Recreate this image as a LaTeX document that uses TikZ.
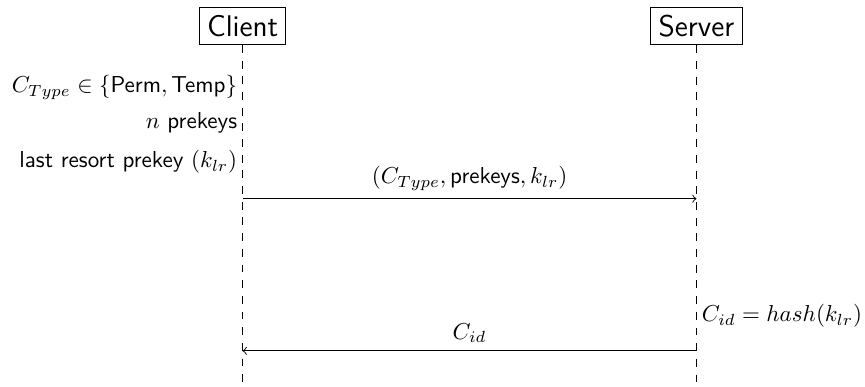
\documentclass[tikz,border=0pt]{standalone}
\usepackage{amsmath}
\usepackage{amsfonts}
\usepackage{tikz}
\usetikzlibrary{positioning}
\renewcommand{\familydefault}{\sfdefault}

\begin{document}
\begin{tikzpicture}[
  node distance = 6.92cm,
  party/.style={rectangle, text centered, draw=black, font=\fontsize{13}{16}\selectfont},
  lifeline/.style={-, dash pattern=on 3.4pt off 3.4pt},
  msg/.style={->},
  lnote/.style={anchor=east, inner sep=2.2pt},
  rnote/.style={anchor=west, inner sep=2.2pt}
  ]

\useasboundingbox (0,0) rectangle (13.19,-5.90);

\node [party] (client) at (3.70,-0.40) {Client};
\node [party, right of=client] (server) {Server};

\coordinate (cend) at (client |- 0,-5.90);
\coordinate (send) at (server |- 0,-5.90);
\draw [lifeline] (client) -- (cend);
\draw [lifeline] (server) -- (send);

\node [lnote] (ctype) at (client |- 0,-1.33) {$C_{Type} \in \{\text{Perm}, \text{Temp}\}$};
\node [lnote] (nkeys) at (client |- 0,-1.875) {$n$ prekeys};
\node [lnote] (lastres) at (client |- 0,-2.47) {last resort prekey $(k_{lr})$};

\coordinate (c1) at (client |- 0,-3.03);
\coordinate (s1) at (server |- 0,-3.03);
\draw [msg] (c1) -- node [midway, above] {$(C_{Type}, \text{prekeys}, k_{lr})$} (s1);

\node [rnote] (cid) at (server |- 0,-4.82) {$C_{id} = hash(k_{lr})$};

\coordinate (s2) at (server |- 0,-5.35);
\coordinate (c2) at (client |- 0,-5.35);
\draw [msg] (s2) -- node [midway, above] {$C_{id}$} (c2);

\end{tikzpicture}
\end{document}
